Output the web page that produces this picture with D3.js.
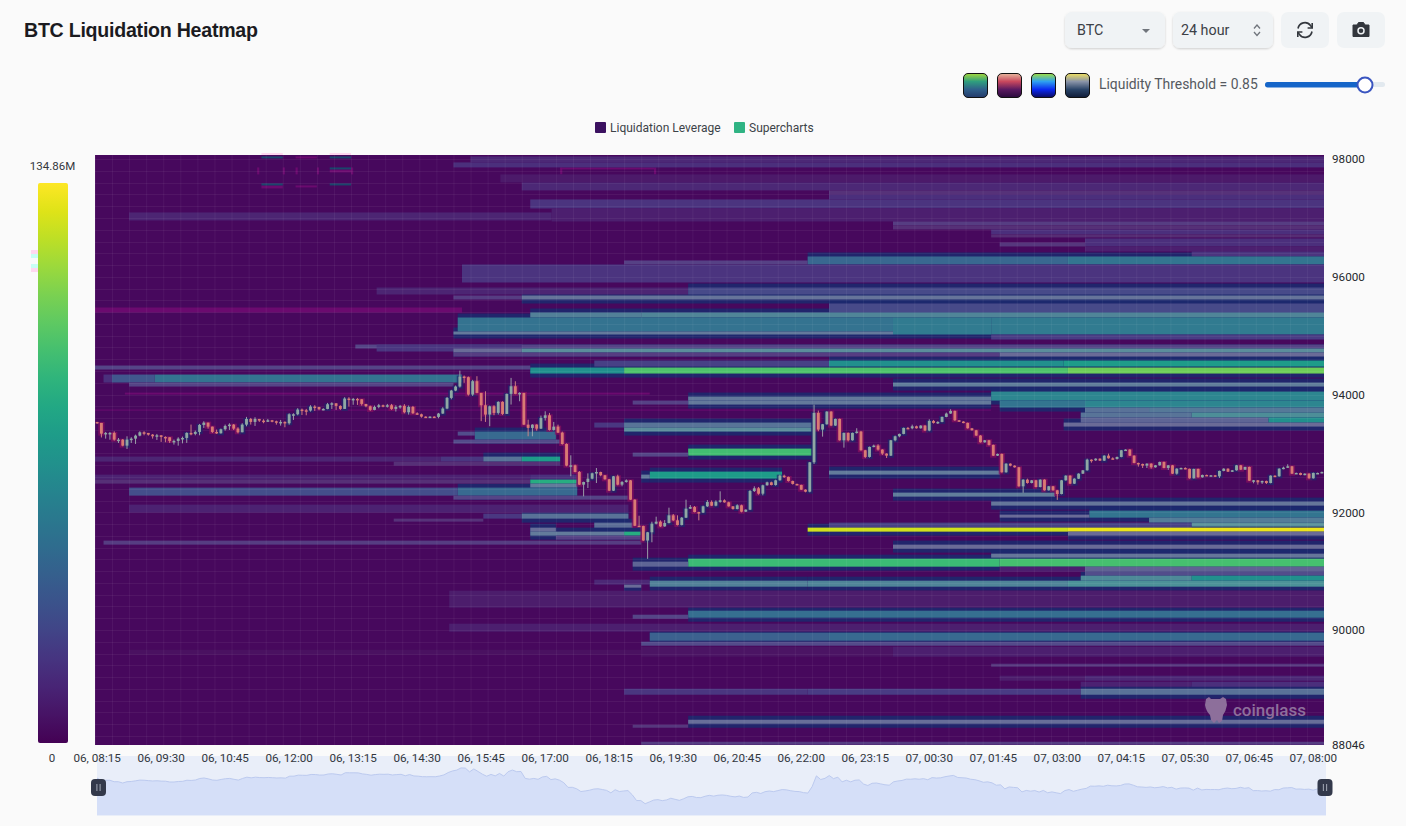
<!DOCTYPE html>
<html>
<head>
<meta charset="utf-8">
<title>BTC Liquidation Heatmap</title>
<script src="https://cdn.jsdelivr.net/npm/d3@7"></script>
<style>
  html, body { margin: 0; padding: 0; background: #fafafa; overflow: hidden; }
  svg { display: block; }
  text { font-family: Roboto, "Noto Sans", sans-serif; }
  .axis path, .axis line { display: none; }
</style>
</head>
<body>
<div id="chart"></div>
<script>
// 5 minute candles, open is the previous close
const firstOpen = 93535;
const candleClose = [
  93518,93336,93348,93348,93234,93234,93132,93234,93251,93302,
  93359,93348,93319,93291,93308,93280,93274,93212,93212,93251,
  93263,93348,93331,93365,93484,93523,93455,93365,93342,93410,
  93467,93489,93421,93359,93489,93586,93535,93586,93557,93546,
  93563,93546,93523,93535,93512,93665,93665,93745,93733,93728,
  93796,93790,93750,93756,93835,93852,93807,93756,93932,93926,
  93926,93920,93841,93801,93739,93790,93818,93807,93818,93756,
  93790,93807,93699,93790,93682,93665,93625,93620,93625,93620,
  93677,93762,93943,94068,94136,94306,94295,94000,94227,94028,
  93818,93660,93801,93688,93875,93671,94011,94141,94011,94028,
  93489,93433,93489,93421,93603,93648,93399,93455,93353,93160,
  92792,92798,92684,92469,92514,92571,92662,92684,92628,92560,
  92367,92611,92469,92514,92542,92214,91771,91766,91520,91660,
  91806,91840,91760,91817,91948,91863,91783,91908,92061,92089,
  92004,91993,92101,92174,92112,92180,92203,92169,92101,92055,
  92118,92010,92044,92361,92407,92316,92458,92509,92463,92543,
  92622,92600,92532,92481,92463,92384,92350,92849,93688,93405,
  93495,93711,93473,93586,93223,93348,93223,93348,93371,93053,
  92940,93110,93133,93065,92997,92962,93223,93291,93331,93433,
  93427,93461,93427,93473,93388,93552,93518,93535,93620,93677,
  93722,93563,93541,93518,93427,93393,93303,93189,93223,93144,
  92962,92991,92679,92826,92792,92764,92441,92554,92497,92543,
  92429,92554,92373,92441,92373,92310,92543,92622,92486,92571,
  92656,92713,92894,92883,92911,92877,92962,92917,92906,92940,
  93053,93065,92962,92838,92821,92792,92826,92764,92798,92855,
  92753,92798,92656,92741,92753,92736,92577,92736,92594,92634,
  92622,92628,92611,92702,92741,92690,92713,92798,92724,92770,
  92537,92543,92509,92532,92497,92622,92611,92741,92758,92781,
  92656,92668,92634,92656,92577,92668,92668,92685
];
const wickUp = [
  0,0,17,17,28,28,11,57,23,17,
  17,17,0,11,23,0,11,0,23,23,
  23,11,142,23,17,23,0,0,40,11,
  23,23,11,23,23,34,17,28,0,23,
  23,6,11,34,11,17,17,23,17,23,
  23,23,0,11,23,17,0,11,23,23,
  17,17,0,0,11,23,23,11,23,23,
  28,17,30,25,17,17,11,6,6,6,
  11,23,17,11,17,100,17,11,23,85,
  0,238,11,17,11,11,6,142,85,11,
  0,85,6,6,40,68,40,80,34,17,
  11,170,11,17,6,90,11,68,6,6,
  6,6,28,17,17,6,6,170,6,6,
  34,85,23,50,130,23,85,11,153,34,
  17,6,11,34,28,23,153,17,11,6,
  17,11,6,17,34,23,11,11,11,11,
  17,17,6,6,6,6,6,6,140,40,
  6,6,6,6,6,6,6,6,57,11,
  6,6,17,23,6,6,6,11,6,6,
  17,28,11,6,6,28,17,11,6,17,
  28,6,6,6,6,6,6,6,6,6,
  6,6,6,6,6,6,6,6,17,6,
  6,6,6,6,6,6,6,6,6,6,
  6,6,17,6,6,6,6,34,17,6,
  6,6,6,6,6,6,6,6,6,6,
  6,6,6,6,6,11,6,6,6,6,
  6,6,6,6,6,6,6,6,6,6,
  6,6,6,6,6,6,6,6,17,34,
  6,6,6,6,6,6,6,6
];
const wickDown = [
  15,65,85,115,17,57,11,57,57,90,
  11,40,17,40,62,85,85,34,62,80,
  80,85,23,23,57,51,34,17,11,6,
  23,68,23,17,0,28,45,68,23,34,
  11,17,34,51,68,23,96,17,80,80,
  17,68,17,17,6,80,68,17,0,130,
  100,96,28,17,17,6,23,23,28,17,
  45,30,17,40,11,11,17,6,11,17,
  23,6,11,23,11,17,96,17,23,6,
  270,125,198,40,28,17,0,181,6,125,
  6,142,142,34,6,45,11,11,6,11,
  11,180,6,6,198,102,11,165,17,6,
  6,6,11,28,11,6,6,6,6,312,
  170,11,11,6,6,11,6,6,6,6,
  6,130,6,11,6,11,17,6,6,11,
  6,11,6,6,17,17,28,6,6,11,
  6,17,11,11,6,6,11,11,28,28,
  120,6,6,6,6,125,17,6,11,6,
  17,11,6,17,23,40,6,17,17,6,
  11,17,6,6,6,11,11,17,6,6,
  6,11,6,6,6,6,6,6,6,11,
  6,6,6,6,11,6,6,110,11,6,
  6,6,6,6,6,100,6,6,6,6,
  6,6,6,40,11,6,6,6,6,11,
  6,6,6,6,45,40,40,23,6,6,
  6,34,6,17,6,6,6,6,6,6,
  6,6,11,28,6,6,6,6,6,6,
  6,45,40,28,17,6,6,6,11,6,
  6,6,6,6,6,6,6,6
];

const timeLabels = ["06, 08:15","06, 09:30","06, 10:45","06, 12:00","06, 13:15","06, 14:30","06, 15:45","06, 17:00","06, 18:15","06, 19:30","06, 20:45","06, 22:00","06, 23:15","07, 00:30","07, 01:45","07, 03:00","07, 04:15","07, 05:30","07, 06:45","07, 08:00"];
const priceLabels = [98000, 96000, 94000, 92000, 90000, 88046];
const legendLabels = ["Liquidation Leverage", "Supercharts"];
const maxLiquidity = 134.86;

// liquidity rows: price high, price low, from slot, to slot, value in millions
const upperBands = [
  [98046,97944,88,288,13],[97944,97859,84,288,16],[97740,97604,95,288,7],[97604,97468,100,288,13],
  [97468,97400,172,288,11],[97400,97315,172,288,16],[97315,97162,102,288,18],[97162,96941,107,288,9],
  [97094,96958,8,107,12],[96941,96873,187,288,16],[96873,96805,187,288,9],[96805,96720,210,288,16],
  [96720,96669,210,288,8],[96652,96516,232,288,16],[96584,96516,212,232,13],[96516,96431,232,288,9],
  [96431,96346,257,288,18],[96278,96210,124,167,18],[96346,96210,167,228,43],[96346,96210,228,288,51],
  [96210,95904,86,288,18],[95819,95700,66,139,12],[95819,95700,139,288,27],[95683,95615,84,100,16],
  [95683,95615,100,288,34],[95547,95394,172,288,27],[95394,95309,102,128,49],[95394,95309,128,288,54],
  [95309,95071,85,187,49],[95309,95020,187,210,54],[95309,95020,210,288,54],[95071,95020,84,187,38],
  [95020,94935,210,288,22],[94850,94782,61,288,20],[94850,94731,66,100,19],[94782,94714,84,100,27],
  [94782,94714,100,288,57],[94714,94646,84,212,16],[94714,94646,212,288,27],[94578,94476,117,172,24],
  [94578,94476,172,227,67],[94578,94476,227,288,74],[94493,94425,0,102,20],[94459,94357,102,124,67],
  [94459,94357,124,228,97],[94459,94357,228,288,105],[94340,94204,2,4,16],[94340,94204,4,14,34],
  [94340,94204,14,86,49],[94204,94136,8,84,19],[94204,94136,187,288,43]
];
const middleBands = [
  [93966,93898,139,210,38],[93898,93830,139,210,38],[93898,93830,126,139,18],[94051,93898,210,288,61],
  [93898,93779,212,232,51],[93898,93779,232,288,61],[93779,93694,232,247,38],[93779,93694,247,288,44],
  [93694,93609,231,257,40],[93694,93609,257,288,61],[93609,93524,231,275,30],[93609,93524,275,288,67],
  [93524,93456,227,288,27],[93524,93439,117,124,20],[93524,93439,124,168,40],[93439,93371,124,168,57],
  [93082,92963,139,168,94],[93014,92946,126,139,20],[92691,92572,130,161,74],[92640,92572,128,130,40],
  [93371,93235,89,108,44],[93371,93303,85,89,24],[93235,93167,84,109,23],[92946,92861,0,81,12],
  [92946,92861,81,91,19],[92946,92861,91,100,40],[92946,92861,100,109,74],[92861,92793,70,109,9],
  [92640,92555,0,102,11],[92640,92555,102,113,16],[92555,92487,0,102,9],[92555,92487,102,113,84],
  [92487,92419,102,113,40],[92419,92283,8,85,30],[92419,92283,85,113,44],[92283,92215,84,125,19],
  [92130,91994,8,125,11],[91977,91892,91,100,20],[91977,91892,100,125,38],[91892,91841,70,91,11],
  [91824,91739,117,126,36],[91739,91671,102,108,30],[91671,91603,102,124,40],[91671,91603,124,128,84],
  [91603,91535,108,128,18],[91518,91450,2,128,16]
];
const lowerBands = [
  [92708,92640,172,212,40],[92334,92266,187,225,43],[92181,92113,210,288,36],[92028,91909,233,288,51],
  [91960,91909,212,233,27],[91909,91824,247,288,47],[91824,91739,172,257,24],[91824,91756,257,288,61],
  [91739,91671,167,228,125],[91739,91671,228,288,131],[91671,91603,228,288,27],[91450,91382,187,288,27],
  [91297,91229,210,288,36],[91212,91076,139,212,92],[91212,91076,212,288,95],[91161,91076,126,139,30],
  [91076,90991,212,232,9],[91076,90991,232,288,27],[90991,90923,232,288,24],[90923,90838,231,257,57],
  [90923,90838,257,288,67],[90855,90770,117,130,13],[90838,90736,130,167,51],[90838,90736,167,228,54],
  [90838,90736,228,288,64],[90770,90719,124,128,27],[90668,90379,83,288,8],[90328,90209,139,288,47],
  [90260,90192,126,139,20],[90107,89971,83,288,9],[89954,89818,130,172,40],[89954,89818,172,288,44],
  [89801,89733,128,288,23],[89716,89546,128,187,5],[89716,89546,187,288,9],[89665,89580,8,128,4],
  [89427,89376,210,288,13],[89223,89138,212,232,8],[89223,89138,232,288,13],[89121,89036,231,257,11],
  [89121,89036,257,288,16],[89002,88900,124,167,19],[89002,88900,167,231,22],[89002,88900,231,288,38],
  [88475,88407,139,288,30],[88390,88339,126,139,13],[88101,88050,128,288,16]
];
// thin colour ghost rows: price high, price low, from slot, to slot
const magentaRows = [
  [95479,95394,0,86],[94033,94000,7,130],[93745,93728,0,210],[98046,98012,47,52],
  [97825,97774,55,60],[97553,97502,39,44],[97553,97519,47,52],[97859,97825,109,131],
  [97859,97740,38,38.5],[97859,97740,44,44.5],[97859,97740,47,47.5],[97859,97740,52,52.5],
  [97859,97740,60,60.5],[97859,97740,109,109.5],[97859,97740,131,131.5]
];
const tealRows = [
  [98046,98012,39,44],[98046,98012,55,60],[97859,97825,55,60],[97587,97553,39,44],[97587,97553,55,60]
];
const topFringe = [[39,44],[55,60]];

const config = {
  width: 1406,
  height: 826,
  plot: { left: 95, right: 1324, top: 155, bottom: 745 },
  colorBar: { x: 38, y: 183, width: 30, height: 560 },
  brush: { left: 97, right: 1326, top: 756, bottom: 816, lineTop: 768 },
  background: "#47085d"
};

const svg = d3.select("#chart").append("svg")
  .attr("width", config.width)
  .attr("height", config.height)
  .style("background", "#fafafa");

const defs = svg.append("defs");

const addGradient = (id, stops) => {
  const gradient = defs.append("linearGradient").attr("id", id)
    .attr("x1", 0).attr("y1", 0).attr("x2", 0).attr("y2", 1);
  stops.forEach((c, i) => {
    gradient.append("stop").attr("offset", i / (stops.length - 1)).attr("stop-color", c);
  });
};

addGradient("viridisBar", d3.range(0, 1.001, 0.05).map(t => d3.interpolateViridis(1 - t)));
addGradient("swatch0", ["#a4d93c", "#2f9e7e", "#2f5f8a", "#233a6a"]);
addGradient("swatch1", ["#e8b89e", "#c8485e", "#5a1a60", "#2a0a3c"]);
addGradient("swatch2", ["#a0e040", "#2ea0f0", "#0a28f0", "#0a0a60"]);
addGradient("swatch3", ["#f0e060", "#8a94a8", "#2a4468", "#101c38"]);

// Scales
const slots = d3.range(candleClose.length);
const x = d3.scaleBand().domain(slots).range([config.plot.left, config.plot.right]);
const slotEdge = s => config.plot.left + s * x.step();
const y = d3.scaleLinear().domain([88046, 98070]).range([config.plot.bottom, config.plot.top]);
const brushY = d3.scaleLinear().domain([90645, 94300]).range([815, config.brush.lineTop]);

// thin rows read paler in the reference, the weak ones stay violet
const bandColor = (value, height) => {
  let wash = 0;
  if (value < 27) wash = height <= 5 ? 0.16 : 0.04;
  else if (value < 65) wash = height <= 5 ? 0.42 : height <= 7 ? 0.32 : 0.06;
  return d3.interpolateRgb(d3.interpolateViridis(value / maxLiquidity), "#a2a2ae")(wash);
};

// Header
svg.append("text")
  .attr("x", 24).attr("y", 37)
  .style("font-family", "'Liberation Sans', Arial, sans-serif")
  .style("font-size", "19.6px").style("font-weight", 700).style("letter-spacing", "-0.25px")
  .attr("fill", "#1b1b1f")
  .text("BTC Liquidation Heatmap");

const controls = [
  { x: 1065, w: 100, shadow: true },
  { x: 1173, w: 100, shadow: true },
  { x: 1281, w: 48, shadow: false },
  { x: 1337, w: 48, shadow: false }
];
const shadow = defs.append("filter").attr("id", "softShadow")
  .attr("x", "-10%").attr("y", "-10%").attr("width", "120%").attr("height", "130%");
shadow.append("feDropShadow").attr("dx", 0).attr("dy", 1).attr("stdDeviation", 1)
  .attr("flood-color", "#000").attr("flood-opacity", 0.18);

svg.append("g").selectAll("rect").data(controls).enter().append("rect")
  .attr("x", d => d.x).attr("y", 12).attr("width", d => d.w).attr("height", 36).attr("rx", 7)
  .attr("fill", "#f0f3f5")
  .attr("filter", d => d.shadow ? "url(#softShadow)" : null);

svg.append("text").attr("x", 1077).attr("y", 35).style("font-size", "14.3px").attr("fill", "#3c4046").text("BTC");
svg.append("text").attr("x", 1181).attr("y", 35).style("font-size", "14.3px").attr("fill", "#3c4046").text("24 hour");
svg.append("path").attr("d", "M1142 29h8l-4 4z").attr("fill", "#70757c");
svg.append("path").attr("d", "M1254 28.5l3-3.5 3 3.5M1254 32l3 3.5 3-3.5").attr("fill", "none").attr("stroke", "#70757c").attr("stroke-width", 1.3);

// refresh icon
const refresh = svg.append("g").attr("transform", "translate(1305,30)").attr("fill", "none").attr("stroke", "#33373d").attr("stroke-width", 1.6);
refresh.append("path").attr("d", "M-7 -1.5A7 7 0 0 1 5.5 -4.5L7 -2.5");
refresh.append("path").attr("d", "M7 1.5A7 7 0 0 1 -5.5 4.5L-7 2.5");
refresh.append("path").attr("d", "M7.2 -7V-2H2.6M-7.2 7V2H-2.6");

// camera icon
const camera = svg.append("g").attr("transform", "translate(1361,30)");
camera.append("path").attr("d", "M-8 -5H-4L-2.5 -7.5H2.5L4 -5H8V6.5H-8Z").attr("fill", "#33373d").attr("stroke", "#33373d").attr("stroke-linejoin", "round");
camera.append("circle").attr("r", 3).attr("cy", 0.8).attr("fill", "none").attr("stroke", "#f0f3f5").attr("stroke-width", 1.5);

// Palette swatches and threshold slider
svg.append("g").selectAll("rect").data([963, 997, 1031, 1065]).enter().append("rect")
  .attr("x", d => d + 0.5).attr("y", 73.5).attr("width", 24).attr("height", 24).attr("rx", 4.5)
  .attr("fill", (d, i) => `url(#swatch${i})`)
  .attr("stroke", "#111").attr("stroke-width", 1);

svg.append("text").attr("x", 1099).attr("y", 89).style("font-size", "13.9px").attr("fill", "#55595f")
  .text("Liquidity Threshold = 0.85");
svg.append("rect").attr("x", 1265).attr("y", 82).attr("width", 120).attr("height", 5).attr("rx", 2.5).attr("fill", "#e2e9ef");
svg.append("rect").attr("x", 1265).attr("y", 82).attr("width", 100).attr("height", 5.5).attr("rx", 2.7).attr("fill", "#1565c8");
svg.append("circle").attr("cx", 1365).attr("cy", 85).attr("r", 7.5).attr("fill", "#fff").attr("stroke", "#3a55c0").attr("stroke-width", 2);

// Legend
const legendItems = svg.append("g").selectAll("g").data(legendLabels).enter().append("g")
  .attr("transform", (d, i) => `translate(${i ? 734 : 595},122)`);
legendItems.append("rect").attr("width", 11).attr("height", 11).attr("rx", 1)
  .attr("fill", (d, i) => i ? "#2fb383" : "#3b1160");
legendItems.append("text").attr("x", 15).attr("y", 10).style("font-size", "12px").attr("fill", "#3c4248").text(d => d);

// Colour bar
svg.append("g").selectAll("rect")
  .data([[250, "#ffd8ef"], [254, "#c8fff4"], [264, "#c8fff4"], [268, "#ffd8ef"]])
  .enter().append("rect")
  .attr("x", 31).attr("y", d => d[0]).attr("width", 7).attr("height", 4).attr("fill", d => d[1]);
svg.append("rect")
  .attr("x", config.colorBar.x).attr("y", config.colorBar.y)
  .attr("width", config.colorBar.width).attr("height", config.colorBar.height).attr("rx", 2)
  .attr("fill", "url(#viridisBar)");
svg.append("text").attr("x", 52.5).attr("y", 170).attr("text-anchor", "middle").style("font-size", "11.5px").attr("fill", "#33373d").text(`${maxLiquidity}M`);
svg.append("text").attr("x", 52).attr("y", 762).attr("text-anchor", "middle").style("font-size", "11.5px").attr("fill", "#33373d").text("0");

// Heatmap
const plot = svg.append("g");
plot.append("g").selectAll("rect").data(topFringe).enter().append("rect")
  .attr("x", d => slotEdge(d[0])).attr("width", d => slotEdge(d[1]) - slotEdge(d[0]))
  .attr("y", config.plot.top - 2).attr("height", 2).attr("fill", "#ffd6ef");
plot.append("rect")
  .attr("x", config.plot.left).attr("y", config.plot.top)
  .attr("width", config.plot.right - config.plot.left)
  .attr("height", config.plot.bottom - config.plot.top)
  .attr("fill", config.background);

const allBands = [...upperBands, ...middleBands, ...lowerBands];

// dark halo that sits around the stronger rows
plot.append("g").selectAll("rect")
  .data(allBands.filter(d => d[4] >= 27 && d[2] >= 60))
  .enter().append("rect")
  .attr("x", d => slotEdge(d[2]))
  .attr("width", d => slotEdge(d[3]) - slotEdge(d[2]))
  .attr("y", d => y(d[0]) - 4)
  .attr("height", d => y(d[1]) - y(d[0]) + 8)
  .attr("fill", "#1b2a6e").attr("opacity", 0.85);

plot.append("g").selectAll("rect")
  .data(magentaRows).enter().append("rect")
  .attr("x", d => slotEdge(d[2]))
  .attr("width", d => slotEdge(d[3]) - slotEdge(d[2]))
  .attr("y", d => y(d[0]))
  .attr("height", d => y(d[1]) - y(d[0]))
  .attr("fill", "#720a72").attr("opacity", 0.85);

plot.append("g").selectAll("rect")
  .data(tealRows).enter().append("rect")
  .attr("x", d => slotEdge(d[2]))
  .attr("width", d => slotEdge(d[3]) - slotEdge(d[2]))
  .attr("y", d => y(d[0]))
  .attr("height", d => y(d[1]) - y(d[0]))
  .attr("fill", "#14506e").attr("opacity", 0.85);

plot.append("g").selectAll("rect")
  .data(allBands).enter().append("rect")
  .attr("x", d => slotEdge(d[2]))
  .attr("width", d => slotEdge(d[3]) - slotEdge(d[2]))
  .attr("y", d => y(d[0]))
  .attr("height", d => y(d[1]) - y(d[0]))
  .attr("fill", d => bandColor(d[4], y(d[1]) - y(d[0])));

// faint cell grid
const grid = plot.append("g").attr("stroke", "#fff").attr("stroke-opacity", 0.055).attr("stroke-width", 1);
grid.selectAll(".v").data(slots.filter(s => s % 4 === 0)).enter().append("line")
  .attr("x1", d => slotEdge(d) + 0.5).attr("x2", d => slotEdge(d) + 0.5)
  .attr("y1", config.plot.top).attr("y2", config.plot.bottom);
grid.selectAll(".h").data(d3.range(88200, 98070, 200)).enter().append("line")
  .attr("y1", d => Math.round(y(d)) + 0.5).attr("y2", d => Math.round(y(d)) + 0.5)
  .attr("x1", config.plot.left).attr("x2", config.plot.right);

// Candles
const candles = slots.map(i => {
  const close = candleClose[i];
  const open = i ? candleClose[i - 1] : firstOpen;
  return {
    i, open, close,
    high: Math.max(open, close) + wickUp[i],
    low: Math.min(open, close) - wickDown[i],
    up: close >= open
  };
});

const candleGroup = plot.append("g");
candleGroup.selectAll(".halo").data(candles.filter(d => Math.abs(d.close - d.open) >= 60)).enter().append("rect")
  .attr("x", d => x(d.i) - 1)
  .attr("width", x.bandwidth() + 2)
  .attr("y", d => y(Math.max(d.open, d.close)) - 1)
  .attr("height", d => Math.abs(y(d.close) - y(d.open)) + 3)
  .attr("fill", d => d.up ? "#1b2a6e" : "#8a1060")
  .attr("opacity", 0.7);

candleGroup.selectAll(".wick").data(candles).enter().append("line")
  .attr("x1", d => x(d.i) + x.bandwidth() / 2).attr("x2", d => x(d.i) + x.bandwidth() / 2)
  .attr("y1", d => y(d.high)).attr("y2", d => y(d.low))
  .attr("stroke", d => d.up ? "#a4aeb0" : "#d88a88").attr("stroke-width", 0.9);

candleGroup.selectAll(".body").data(candles).enter().append("rect")
  .attr("x", d => x(d.i) + 0.7)
  .attr("width", x.bandwidth() - 1.4)
  .attr("y", d => y(Math.max(d.open, d.close)))
  .attr("height", d => Math.max(1.5, Math.abs(y(d.close) - y(d.open))))
  .attr("fill", d => d.up ? "#8fa8a4" : "#d97a74");

// Watermark
const mark = plot.append("g").attr("transform", "translate(1216,710)").attr("fill", "#8d6f9b");
mark.append("path").attr("d", "M-10 -11L-7 -13L-5 -11H4L7 -13L10 -11L11 -5Q10 1 7 5L6 11L3 13L1 10L-2 13L-5 10L-6 5Q-10 1 -11 -5Z");
mark.append("text").attr("x", 17).attr("y", 6).style("font-size", "17px").style("font-weight", 500).text("coinglass");

// Range slider with the price area under it
const brush = svg.append("g");
brush.append("rect")
  .attr("x", config.brush.left).attr("y", config.brush.top)
  .attr("width", config.brush.right - config.brush.left)
  .attr("height", config.brush.bottom - config.brush.top)
  .attr("fill", "#e9eef9");

const brushX = d3.scaleLinear().domain([0, candleClose.length - 1]).range([config.brush.left, config.brush.right]);
brush.append("path").datum(candleClose)
  .attr("d", d3.area().x((d, i) => brushX(i)).y0(815).y1(d => brushY(d)))
  .attr("fill", "#d5dff8");
brush.append("path").datum(candleClose)
  .attr("d", d3.line().x((d, i) => brushX(i)).y(d => brushY(d)))
  .attr("fill", "none").attr("stroke", "#bccaef").attr("stroke-width", 1);

const handles = brush.selectAll(".handle").data([98.5, 1325]).enter().append("g")
  .attr("transform", d => `translate(${d},787.5)`);
handles.append("rect").attr("x", -7.5).attr("y", -8.5).attr("width", 15).attr("height", 17).attr("rx", 4).attr("fill", "#33394b");
handles.append("path").attr("d", "M-1.6 -3.5V3.5M1.6 -3.5V3.5").attr("stroke", "#9aa0ae").attr("stroke-width", 1.1);

// Axes
const xAxis = d3.axisBottom(x)
  .tickValues(timeLabels.map((d, i) => i * 15))
  .tickFormat((d, i) => timeLabels[i])
  .tickSize(0).tickPadding(0);
svg.append("g").attr("class", "axis")
  .attr("transform", "translate(0,753)")
  .call(xAxis)
  .call(g => g.selectAll("text").style("font-size", "11.7px").attr("fill", "#33373d").attr("dy", "0.75em").attr("y", 0));

const yAxis = d3.axisRight(y).tickValues(priceLabels).tickFormat(d => d).tickSize(0).tickPadding(0);
svg.append("g").attr("class", "axis")
  .attr("transform", "translate(1332,0)")
  .call(yAxis)
  .call(g => g.selectAll("text").style("font-size", "11.7px").attr("fill", "#26292e"));
</script>
</body>
</html>
